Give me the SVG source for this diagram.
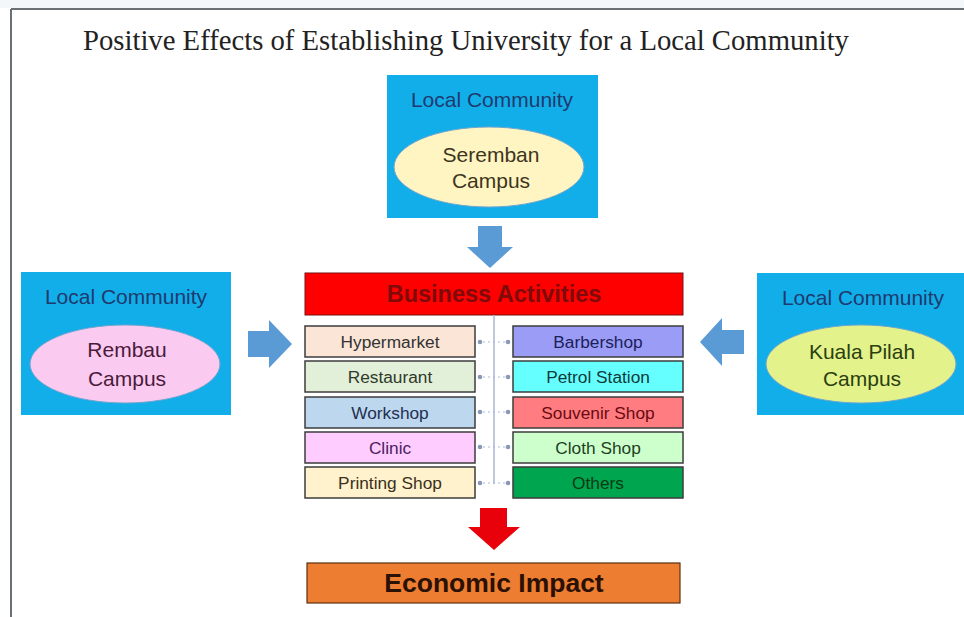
<svg xmlns="http://www.w3.org/2000/svg" width="964" height="617" viewBox="0 0 964 617">
<style>
.sans{font-family:"Liberation Sans",Arial,sans-serif;}
.lc{font-size:21px;fill:#1f3a6e;text-anchor:middle;}
.camp{font-size:21px;text-anchor:middle;}
.item{font-size:17.3px;text-anchor:middle;}
.box{stroke:#3c3c3c;stroke-width:1.5;}
.comm{fill:#12aeea;}
.ell{stroke:#6fa6cf;stroke-width:1;}
.barrow{fill:#5b9bd5;}
.conn{stroke:#a9b7d6;stroke-width:1.5;fill:none;}
.dash{stroke:#a9b7d6;stroke-width:1.2;stroke-dasharray:2 3;}
.dot{fill:#8a98b8;}
</style>
<rect width="964" height="617" fill="#ffffff"/>
<rect x="0" y="0" width="964" height="8" fill="#f4f7f9"/>
<line x1="11" y1="9" x2="964" y2="9" stroke="#6a7075" stroke-width="2"/>
<line x1="11" y1="9" x2="11" y2="617" stroke="#6a7075" stroke-width="2"/>
<text x="83" y="50" font-family="'Liberation Serif','Times New Roman',serif" font-size="28.7" fill="#222">Positive Effects of Establishing University for a Local Community</text>

<g id="seremban">
<rect class="comm" x="387" y="75" width="211" height="143"/>
<text class="sans lc" x="492" y="107">Local Community</text>
<ellipse class="ell" cx="489" cy="167" rx="95" ry="40" fill="#fff5c2"/>
<text class="sans camp" x="491" y="162" fill="#3d3520">Seremban</text>
<text class="sans camp" x="491" y="188" fill="#3d3520">Campus</text>
</g>

<g id="rembau">
<rect class="comm" x="21" y="272" width="210" height="143"/>
<text class="sans lc" x="126" y="304">Local Community</text>
<ellipse class="ell" cx="125" cy="364" rx="95" ry="39" fill="#fbcaf1"/>
<text class="sans camp" x="127" y="357" fill="#4a1a3a">Rembau</text>
<text class="sans camp" x="127" y="386" fill="#4a1a3a">Campus</text>
</g>

<g id="kualapilah">
<rect class="comm" x="757" y="273" width="207" height="142"/>
<text class="sans lc" x="863" y="305">Local Community</text>
<ellipse class="ell" cx="861" cy="364" rx="95" ry="39" fill="#e4f28c"/>
<text class="sans camp" x="862" y="359" fill="#2a4010">Kuala Pilah</text>
<text class="sans camp" x="862" y="386" fill="#2a4010">Campus</text>
</g>

<g id="business">
<rect x="305" y="273" width="378" height="42" fill="#ff0000" stroke="#7a1010" stroke-width="1"/>
<text class="sans" x="494" y="302" font-size="23.5" font-weight="bold" fill="#7f0a0a" text-anchor="middle">Business Activities</text>
</g>

<g id="connectors">
<line class="conn" x1="494" y1="315" x2="494" y2="484"/>
<line class="dash" x1="478" y1="342" x2="510" y2="342"/>
<line class="dash" x1="478" y1="377" x2="510" y2="377"/>
<line class="dash" x1="478" y1="412" x2="510" y2="412"/>
<line class="dash" x1="478" y1="447" x2="510" y2="447"/>
<line class="dash" x1="478" y1="483" x2="510" y2="483"/>
<circle class="dot" cx="480" cy="342" r="2.3"/><circle class="dot" cx="508" cy="342" r="2.3"/>
<circle class="dot" cx="480" cy="377" r="2.3"/><circle class="dot" cx="508" cy="377" r="2.3"/>
<circle class="dot" cx="480" cy="412" r="2.3"/><circle class="dot" cx="508" cy="412" r="2.3"/>
<circle class="dot" cx="480" cy="447" r="2.3"/><circle class="dot" cx="508" cy="447" r="2.3"/>
<circle class="dot" cx="480" cy="483" r="2.3"/><circle class="dot" cx="508" cy="483" r="2.3"/>
<polygon class="barrow" points="478,226 502,226 502,247 513,247 490,268 467,247 478,247"/>
<polygon class="barrow" points="248,331 269,331 269,320 292,344 269,368 269,357 248,357"/>
<polygon class="barrow" points="744,330 722,330 722,318 700,342 722,366 722,354 744,354"/>
<polygon points="480,508 507,508 507,527 520,527 494,550 468,527 480,527" fill="#e8000a"/>
</g>

<g id="hypermarket"><rect class="box" x="305" y="326" width="170" height="31" fill="#fbe5d6"/><text class="sans item" x="390" y="347.5" fill="#333333">Hypermarket</text></g>
<g id="restaurant"><rect class="box" x="305" y="361" width="170" height="31" fill="#e2efd9"/><text class="sans item" x="390" y="382.5" fill="#2f3a2a">Restaurant</text></g>
<g id="workshop"><rect class="box" x="305" y="397" width="170" height="31" fill="#bdd7ee"/><text class="sans item" x="390" y="418.5" fill="#1f3050">Workshop</text></g>
<g id="clinic"><rect class="box" x="305" y="432" width="170" height="31" fill="#ffccff"/><text class="sans item" x="390" y="453.5" fill="#4a2060">Clinic</text></g>
<g id="printing"><rect class="box" x="305" y="467" width="170" height="31" fill="#fff2cc"/><text class="sans item" x="390" y="488.5" fill="#3a3020">Printing Shop</text></g>

<g id="barbershop"><rect class="box" x="513" y="326" width="170" height="31" fill="#9a9cf5"/><text class="sans item" x="598" y="347.5" fill="#1c1f5a">Barbershop</text></g>
<g id="petrol"><rect class="box" x="513" y="361" width="170" height="31" fill="#66ffff"/><text class="sans item" x="598" y="382.5" fill="#0f3a3a">Petrol Station</text></g>
<g id="souvenir"><rect class="box" x="513" y="397" width="170" height="31" fill="#ff7c80"/><text class="sans item" x="598" y="418.5" fill="#6a0a10">Souvenir Shop</text></g>
<g id="cloth"><rect class="box" x="513" y="432" width="170" height="31" fill="#ccffcc"/><text class="sans item" x="598" y="453.5" fill="#1f401f">Cloth Shop</text></g>
<g id="others"><rect class="box" x="513" y="467" width="170" height="31" fill="#00a550"/><text class="sans item" x="598" y="488.5" fill="#0a3a12">Others</text></g>

<g id="economic">
<rect x="307" y="563" width="373" height="40" fill="#ed7d31" stroke="#5a3010" stroke-width="1.2"/>
<text class="sans" x="494" y="592" font-size="26.5" font-weight="bold" fill="#2a1005" text-anchor="middle">Economic Impact</text>
</g>
</svg>
